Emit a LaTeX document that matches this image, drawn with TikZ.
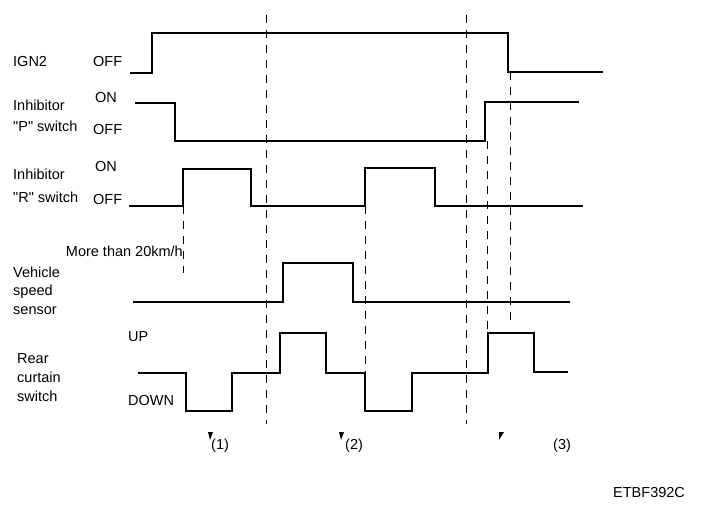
\documentclass[tikz,border=0pt]{standalone}
\usepackage{fontspec}
\setmainfont{Liberation Sans}[Ligatures=TeXOff]
\begin{document}
\begin{tikzpicture}[x=1pt,y=-1pt,
  wave/.style={line width=2pt},
  guide/.style={line width=0.9pt,dash pattern=on 8pt off 7pt},
  lbl/.style={font=\fontsize{14.5}{16}\selectfont,inner sep=0pt,anchor=base west},
  tick/.style={fill=black}]
\useasboundingbox (0,0) rectangle (704,510);

% waveforms
\draw[wave] (130,73) -- (152,73) -- (152,33) -- (508,33) -- (508,72) -- (603,72);
\draw[wave] (135,103) -- (175,103) -- (175,141) -- (485,141) -- (485,102) -- (579,102);
\draw[wave] (129,206) -- (183,206) -- (183,169) -- (251,169) -- (251,206) -- (365,206)
  -- (365,168) -- (435,168) -- (435,206) -- (583,206);
\draw[wave] (133,302) -- (283,302) -- (283,263) -- (353,263) -- (353,302) -- (570,302);
\draw[wave] (138,373) -- (186,373) -- (186,411) -- (232,411) -- (232,373) -- (280,373)
  -- (280,333) -- (326,333) -- (326,373) -- (365,373) -- (365,411) -- (412,411)
  -- (412,373) -- (488,373) -- (488,333) -- (534,333) -- (534,372) -- (568,372);

% timing guides
\draw[guide] (266,15) -- (266,424);
\draw[guide] (466,15) -- (466,424);
\draw[guide] (183,206) -- (183,273);
\draw[guide] (365,206) -- (365,373);
\draw[guide] (487,141) -- (487,333);
\draw[guide] (510,72) -- (510,320);

% signal names
\node[lbl] (ign) at (13,67) {IGN2};
\node[lbl] (inhp) at (13,111) {Inhibitor};
\node[lbl] (inhpsw) at (13,132) {"P" switch};
\node[lbl] (inhr) at (13,180) {Inhibitor};
\node[lbl] (inhrsw) at (13,203) {"R" switch};
\node[lbl] (veh) at (13,278) {Vehicle};
\node[lbl] (vehspd) at (13,296) {speed};
\node[lbl] (vehsen) at (13,315) {sensor};
\node[lbl] (rear) at (17,363) {Rear};
\node[lbl] (rearcur) at (17,383) {curtain};
\node[lbl] (rearsw) at (17,402) {switch};

% levels
\node[lbl] (ignoff) at (93,67) {OFF};
\node[lbl] (pon) at (95,103) {ON};
\node[lbl] (poff) at (93,135) {OFF};
\node[lbl] (ron) at (95,172) {ON};
\node[lbl] (roff) at (93,205) {OFF};
\node[lbl,anchor=base east] (spdmin) at (183,257) {More than 20km/h};
\node[lbl] (cup) at (128,342) {UP};
\node[lbl] (cdown) at (128,406) {DOWN};

% cases
\fill[tick] (208,432) -- (213,432) -- (210,440) -- cycle;
\fill[tick] (339,432) -- (344,432) -- (341,440) -- cycle;
\fill[tick] (499,432) -- (504,432) -- (499,440) -- cycle;
\node[lbl] (case1) at (211,449) {(1)};
\node[lbl] (case2) at (345,449) {(2)};
\node[lbl] (case3) at (553,449) {(3)};

\node[lbl] (code) at (613,497) {ETBF392C};
\end{tikzpicture}
\end{document}
